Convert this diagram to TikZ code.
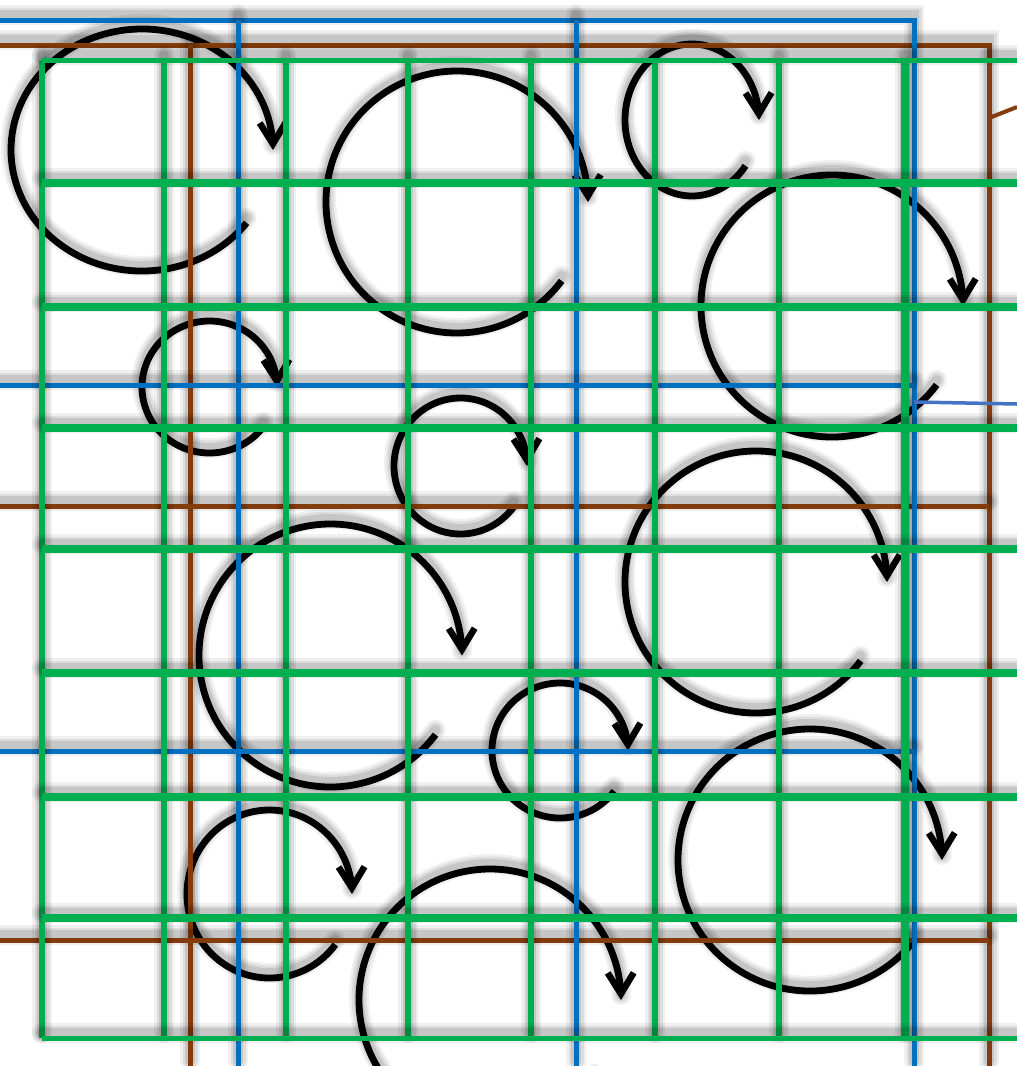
\documentclass[tikz,border=0pt]{standalone}
\usetikzlibrary{arrows.meta,bending}
\definecolor{gr}{HTML}{00B050}
\definecolor{bl}{HTML}{0070C0}
\definecolor{br}{HTML}{843C0C}
\definecolor{lb}{HTML}{4472C4}
\tikzset{
  shd/.style={
    preaction={draw=black,arrows=-,opacity=0.06,line width=20pt,line cap=round,transform canvas={yshift=5pt}},
    preaction={draw=black,arrows=-,opacity=0.08,line width=15pt,line cap=round,transform canvas={yshift=5pt}},
    preaction={draw=black,arrows=-,opacity=0.10,line width=10pt,line cap=round,transform canvas={yshift=5pt}}},
  grn/.style={shd,draw=gr,line width=5.5pt},
  grnh/.style={shd,draw=gr,line width=7.5pt},
  blu/.style={shd,draw=bl,line width=5pt},
  brn/.style={shd,draw=br,line width=5pt},
  cyc/.style={shd,draw=black,line width=6.8pt,-{Straight Barb[length=21pt,width=26pt,line width=6.5pt,flex]}},
}
\begin{document}
\begin{tikzpicture}[x=1pt,y=-1pt]
\useasboundingbox (0,0) rectangle (1017,1066);
\fill[white] (0,0) rectangle (1017,1066);
% circular arrows
\foreach \cx/\cy/\rx/\ry in {142/150/131/121, 457/202/131/131, 692/120/67/76, 832/306/131/131,
  209.5/387/67.5/66, 460.5/466/66.5/68, 756/582/131/131, 330.5/655.5/131.5/131.5,
  560/750.5/68/67.5, 269.5/894/82.5/84, 810/860/132/131, 490/1000/131/131}
  \draw[cyc] (\cx,\cy) ++(-37:\rx pt and \ry pt) arc[start angle=-37,end angle=-360,x radius=\rx pt,y radius=\ry pt];
% brown grid
\draw[brn] (0,45) -- (989,45) -- (989,1066);
\draw[brn] (190,45) -- (190,1066);
\draw[brn] (0,506) -- (989,506);
\draw[brn] (0,940) -- (989,940);
\coordinate (brA) at (989,118);
\coordinate (brB) at (1017,107);
\draw[br,line width=4pt] (brA) -- (brB);
% blue grid
\draw[blu] (0,20) -- (914,20) -- (914,1066);
\draw[blu] (238,20) -- (238,1066);
\draw[blu] (576,20) -- (576,1066);
\draw[blu] (0,385) -- (914,385);
\draw[blu] (0,751) -- (914,751);
\coordinate (blA) at (914,402);
\coordinate (blB) at (1017,404);
\draw[lb,line width=3.5pt] (blA) -- (blB);
% green grid
\foreach \x in {42,164,286,408,531,655,779}
  \draw[grn] (\x,60) -- (\x,1038);
\draw[grn,line width=8pt] (905,60) -- (905,1038);
\draw[grn,line width=5pt] (42,60) -- (1030,60);
\foreach \y in {183,307,428,549,673,797,918}
  \draw[grnh] (42,\y) -- (1030,\y);
\draw[grn,line width=5pt] (42,1038) -- (1030,1038);
\end{tikzpicture}
\end{document}
